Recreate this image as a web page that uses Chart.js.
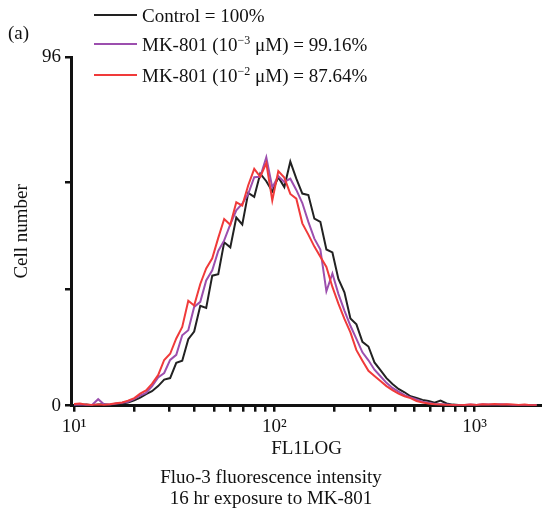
<!DOCTYPE html>
<html>
<head>
<meta charset="utf-8">
<script src="https://cdn.jsdelivr.net/npm/chart.js@4.4.1/dist/chart.umd.min.js"></script>
<style>
  body { margin: 0; background: #fff; }
  #wrap { position: relative; width: 542px; height: 514px; font-family: "Liberation Serif", "DejaVu Serif", serif; color: #111; }
  canvas { position: absolute; left: 0; top: 0; }
  .lbl { position: absolute; font-size: 19px; white-space: nowrap; line-height: 1; }
  .key { position: absolute; left: 94px; width: 43px; height: 2px; }
  sup { font-size: 12px; vertical-align: 7px; line-height: 0; }
</style>
</head>
<body>
<div id="wrap">
  <canvas id="chart" width="542" height="514"></canvas>
  <div class="lbl" style="left:8px; top:23px;">(a)</div>
  <div class="key" style="top:14px; background:#222;"></div>
  <div class="lbl" style="left:142px; top:6px;">Control = 100%</div>
  <div class="key" style="top:43px; background:#9c4fae;"></div>
  <div class="lbl" style="left:142px; top:35px;">MK-801 (10<sup>−3</sup> μM) = 99.16%</div>
  <div class="key" style="top:74px; background:#f03a3a;"></div>
  <div class="lbl" style="left:142px; top:66px;">MK-801 (10<sup>−2</sup> μM) = 87.64%</div>
</div>
<script>
// fluorescence channel (FL1LOG), shared by all three histograms
const fluor = [10, 10.7, 11.5, 12.3, 13.2, 14.1, 15.1, 16.2, 17.4, 18.6,
  20.0, 21.4, 22.9, 24.5, 26.3, 28.2, 30.2, 32.4, 34.7, 37.2,
  39.8, 42.7, 45.7, 49.0, 52.5, 56.2, 60.3, 64.6, 69.2, 74.1,
  79.4, 85.1, 91.2, 97.7, 104.7, 112.2, 120.2, 128.8, 138.0, 147.9,
  158.5, 169.8, 182.0, 195.0, 208.9, 223.9, 239.9, 257.0, 275.4, 295.1,
  316.2, 338.8, 363.1, 389.0, 416.9, 446.7, 478.6, 512.9, 549.5, 588.8,
  631.0, 676.1, 724.4, 776.2, 831.8, 891.3, 955.0, 1023, 1096, 1175,
  1259, 1349, 1445, 1549, 1660, 1778, 1905, 2042];

const control = [0.4, 0.2, 0.3, 0.1, 0.3, 0.4, 0.2, 0.5, 0.6, 0.9,
  1.5, 2.2, 3.2, 4.0, 5.4, 7.2, 7.6, 11.8, 12.4, 18.3,
  20.4, 27.5, 26.9, 35.8, 36.2, 45.0, 43.6, 51.8, 49.9, 58.6,
  57.5, 63.9, 61.8, 59.0, 62.9, 60.2, 67.2, 62.5, 58.4, 58.0,
  51.5, 50.6, 43.0, 42.2, 34.9, 31.2, 24.0, 22.4, 17.6, 16.3,
  11.9, 9.8, 7.6, 6.0, 4.6, 3.7, 2.6, 2.1, 1.6, 1.3,
  0.8, 1.4, 0.6, 0.3, 0.2, 0.1, 0.2, 0.1, 0.1, 0.2,
  0.1, 0.2, 0.1, 0.1, 0.2, 0.1, 0.1, 0.1];

const mk3 = [0.2, 0.3, 0.2, 0.2, 1.8, 0.4, 0.3, 0.6, 0.8, 1.1,
  1.9, 2.8, 3.5, 5.3, 7.8, 9.0, 12.6, 14.0, 19.4, 20.8,
  27.2, 28.6, 34.5, 37.3, 42.6, 45.5, 49.9, 53.8, 55.6, 58.3,
  62.9, 63.0, 68.4, 60.1, 63.2, 61.6, 62.5, 59.4, 55.8, 50.6,
  46.0, 43.0, 31.5, 36.4, 30.8, 26.2, 22.0, 18.4, 14.7, 12.5,
  9.9, 8.1, 6.3, 4.9, 3.9, 2.9, 2.3, 1.7, 1.1, 0.8,
  0.5, 0.4, 0.3, 0.2, 0.1, 0.2, 0.3, 0.2, 0.4, 0.3,
  0.3, 0.4, 0.3, 0.2, 0.2, 0.1, 0.1, 0.1];

const mk2 = [0.5, 0.6, 0.3, 0.2, 0.3, 0.2, 0.4, 0.7, 0.9, 1.4,
  2.1, 3.3, 4.2, 6.0, 8.4, 12.6, 14.3, 18.5, 21.7, 28.9,
  27.6, 33.5, 37.8, 40.6, 46.2, 51.4, 49.8, 56.0, 55.1, 60.7,
  65.2, 63.0, 66.8, 56.5, 64.6, 62.8, 58.3, 57.0, 50.2, 47.1,
  43.8, 41.0, 38.2, 32.7, 28.1, 23.9, 20.2, 15.3, 12.4, 9.6,
  8.2, 6.8, 5.4, 4.3, 3.3, 2.6, 2.1, 1.3, 0.9, 0.6,
  0.4, 0.3, 0.2, 0.2, 0.1, 0.2, 0.3, 0.2, 0.4, 0.3,
  0.5, 0.3, 0.4, 0.3, 0.2, 0.3, 0.1, 0.1];

const xTicks = [10, 20, 30, 40, 50, 60, 70, 80, 90,
  100, 200, 300, 400, 500, 600, 700, 800, 900, 1000];
const xLabels = { 10: '10¹', 100: '10²', 1000: '10³' };
const yTicks = [0, 32, 61.5, 96];
const yLabels = { 0: '0', 96: '96' };

const serif = 'Liberation Serif';

function series(vals) {
  return fluor.map((x, i) => ({ x: x, y: vals[i] }));
}

new Chart(document.getElementById('chart'), {
  type: 'line',
  data: {
    datasets: [
      { label: 'Control = 100%', data: series(control), borderColor: '#222', order: 3 },
      { label: 'MK-801 (10⁻³ μM) = 99.16%', data: series(mk3), borderColor: '#9c4fae', order: 2 },
      { label: 'MK-801 (10⁻² μM) = 87.64%', data: series(mk2), borderColor: '#f03a3a', order: 1 }
    ]
  },
  options: {
    responsive: false,
    animation: false,
    layout: { padding: { top: 57, left: 0, right: 0, bottom: 0 } },
    elements: {
      point: { radius: 0 },
      line: { borderWidth: 2, tension: 0 }
    },
    plugins: {
      legend: { display: false },
      tooltip: { enabled: false },
      title: {
        display: true,
        position: 'bottom',
        text: ['Fluo-3 fluorescence intensity', '16 hr exposure to MK-801'],
        color: '#111',
        font: { family: serif, size: 19, weight: 'normal', lineHeight: 1.1 },
        padding: { top: 2, bottom: 5 }
      }
    },
    scales: {
      x: {
        type: 'logarithmic',
        min: 9.66,
        max: 2170,
        afterBuildTicks: s => { s.ticks = xTicks.map(v => ({ value: v })); },
        afterFit: s => { s.height = 59.5; },
        ticks: {
          autoSkip: false,
          maxRotation: 0,
          padding: 4,
          color: '#111',
          font: { family: serif, size: 19 },
          callback: v => xLabels[v] || ''
        },
        grid: { drawOnChartArea: false, drawTicks: true, tickLength: 6, color: '#111', lineWidth: 2.5 },
        border: { color: '#111', width: 3 },
        title: {
          display: true, text: 'FL1LOG', color: '#111',
          font: { family: serif, size: 19 },
          padding: { top: 0, bottom: 5 }
        }
      },
      y: {
        min: 0,
        max: 96,
        afterBuildTicks: s => { s.ticks = yTicks.map(v => ({ value: v })); },
        afterFit: s => { s.width = 71; },
        ticks: {
          padding: 4,
          color: '#111',
          font: { family: serif, size: 19 },
          callback: v => yLabels[v] || ''
        },
        grid: { drawOnChartArea: false, drawTicks: true, tickLength: 6, color: '#111', lineWidth: 2.5 },
        border: { color: '#111', width: 3 },
        title: {
          display: true, text: 'Cell number', color: '#111',
          font: { family: serif, size: 19 },
          padding: { top: 10.6, bottom: 0 }
        }
      }
    }
  }
});
</script>
</body>
</html>
